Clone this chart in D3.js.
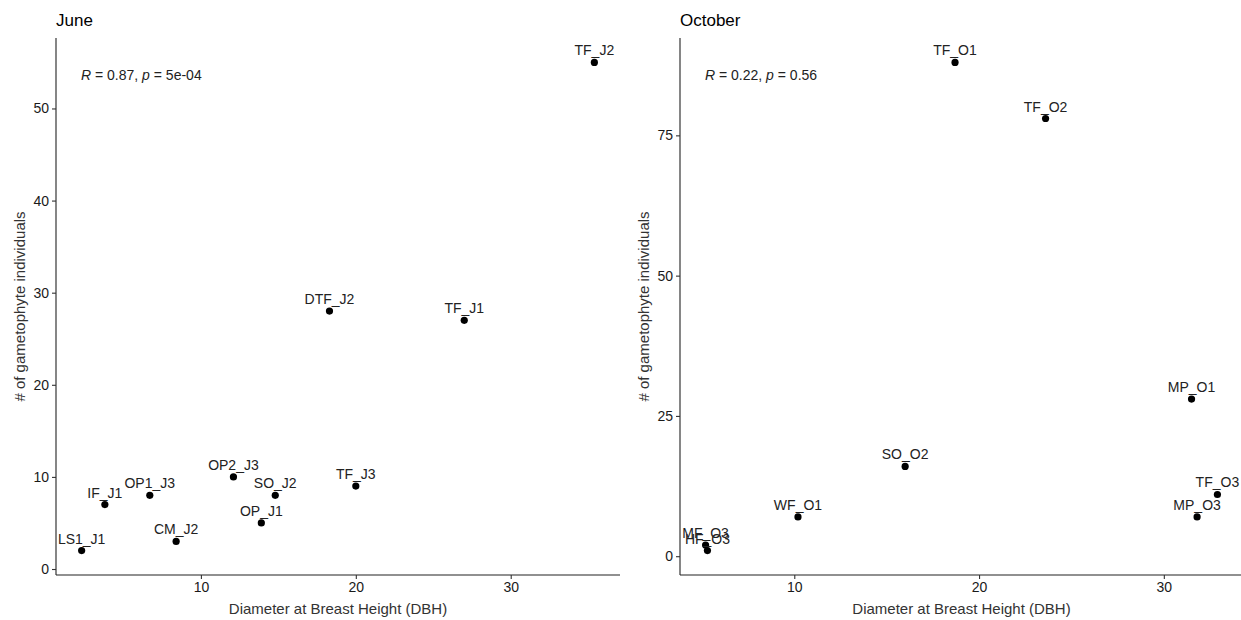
<!DOCTYPE html>
<html>
<head>
<meta charset="utf-8">
<script src="https://cdn.jsdelivr.net/npm/d3@7"></script>
<style>
  body { margin: 0; background: #fff; }
  text { font-family: "Liberation Sans", Arial, sans-serif; }
</style>
</head>
<body>
<div id="vis"></div>
<script>
// June samples
var juneLabels = ['LS1_J1', 'IF_J1', 'OP1_J3', 'CM_J2', 'OP2_J3', 'SO_J2', 'OP_J1', 'TF_J3', 'DTF_J2', 'TF_J1', 'TF_J2']
var juneDBH = [2.3, 3.8, 6.7, 8.4, 12.1, 14.8, 13.9, 20.0, 18.3, 27.0, 35.4]
var juneCount = [2, 7, 8, 3, 10, 8, 5, 9, 28, 27, 55]
var juneTicksX = [10, 20, 30]
var juneTicksY = [0, 10, 20, 30, 40, 50]

// October samples
var octLabels = ['MF_O3', 'HF_O3', 'WF_O1', 'SO_O2', 'TF_O1', 'TF_O2', 'MP_O1', 'TF_O3', 'MP_O3']
var octDBH = [5.2, 5.3, 10.2, 16.0, 18.7, 23.6, 31.5, 32.9, 31.8]
var octCount = [2, 1, 7, 16, 88, 78, 28, 11, 7]
var octTicksX = [10, 20, 30]
var octTicksY = [0, 25, 50, 75]

var W = 1241, H = 620

var svg = d3.select('#vis').append('svg')
    .attr('width', W)
    .attr('height', H)

// ggplot style 5% expansion
function expand(ext) {
    var d = (ext[1] - ext[0]) * 0.05
    return [ext[0] - d, ext[1] + d]
}

function panel(opts) {
    var g = svg.append('g')

    var x = d3.scaleLinear().domain(expand(d3.extent(opts.xs))).range([opts.left, opts.right])
    var y = d3.scaleLinear().domain(expand(d3.extent(opts.ys))).range([opts.bottom, opts.top])

    // axes
    var xAxis = g.append('g')
        .attr('transform', `translate(0,${opts.bottom})`)
        .call(d3.axisBottom(x).tickValues(opts.ticksX).tickSize(4).tickPadding(3).tickFormat(d3.format('d')))
    var yAxis = g.append('g')
        .attr('transform', `translate(${opts.left},0)`)
        .call(d3.axisLeft(y).tickValues(opts.ticksY).tickSize(4).tickPadding(3).tickFormat(d3.format('d')))

    ;[xAxis, yAxis].forEach(function (a) {
        a.select('.domain').attr('stroke', '#222').attr('stroke-width', 1.1)
        a.selectAll('.tick line').attr('stroke', '#333').attr('stroke-width', 1.1)
        a.selectAll('.tick text').attr('fill', '#1a1a1a').style('font-size', '14px')
            .style('font-family', '"Liberation Sans", Arial, sans-serif')
    })
    // axis lines end at the panel, no outer stubs
    xAxis.select('.domain').attr('d', `M${opts.left},0H${opts.right}`)
    yAxis.select('.domain').attr('d', `M0,${opts.bottom}V${opts.top}`)

    // titles
    g.append('text')
        .attr('x', opts.left)
        .attr('y', 26)
        .style('font-size', '17px')
        .attr('fill', '#000')
        .text(opts.title)

    g.append('text')
        .attr('x', (opts.left + opts.right) / 2)
        .attr('y', 614)
        .attr('text-anchor', 'middle')
        .style('font-size', '15px')
        .attr('fill', '#333')
        .text('Diameter at Breast Height (DBH)')

    g.append('text')
        .attr('transform', `translate(${opts.left - 31},${(opts.top + opts.bottom) / 2}) rotate(-90)`)
        .attr('text-anchor', 'middle')
        .style('font-size', '15px')
        .attr('fill', '#333')
        .text('# of gametophyte individuals')

    // correlation label
    var stat = g.append('text')
        .attr('x', opts.left + 25)
        .attr('y', 80)
        .style('font-size', '14px')
        .attr('fill', '#222')
    stat.append('tspan').style('font-style', 'italic').text('R')
    stat.append('tspan').text(' = ' + opts.r + ', ')
    stat.append('tspan').style('font-style', 'italic').text('p')
    stat.append('tspan').text(' = ' + opts.p)

    var pts = opts.labels.map(function (l, i) { return { label: l, x: opts.xs[i], y: opts.ys[i] } })

    g.selectAll('circle.pt')
        .data(pts)
        .enter()
        .append('circle')
        .attr('class', 'pt')
        .attr('cx', function (d) { return x(d.x) })
        .attr('cy', function (d) { return y(d.y) })
        .attr('r', 3.6)
        .attr('fill', '#000')

    g.selectAll('text.lab')
        .data(pts)
        .enter()
        .append('text')
        .attr('class', 'lab')
        .attr('x', function (d) { return x(d.x) })
        .attr('y', function (d) { return y(d.y) - 7 })
        .attr('text-anchor', 'middle')
        .style('font-size', '14px')
        .attr('fill', '#222')
        .text(function (d) { return d.label })
}

panel({
    title: 'June', left: 56, right: 620, top: 38, bottom: 575,
    labels: juneLabels, xs: juneDBH, ys: juneCount,
    ticksX: juneTicksX, ticksY: juneTicksY, r: '0.87', p: '5e-04'
})

panel({
    title: 'October', left: 680, right: 1243, top: 38, bottom: 575,
    labels: octLabels, xs: octDBH, ys: octCount,
    ticksX: octTicksX, ticksY: octTicksY, r: '0.22', p: '0.56'
})
</script>
</body>
</html>
